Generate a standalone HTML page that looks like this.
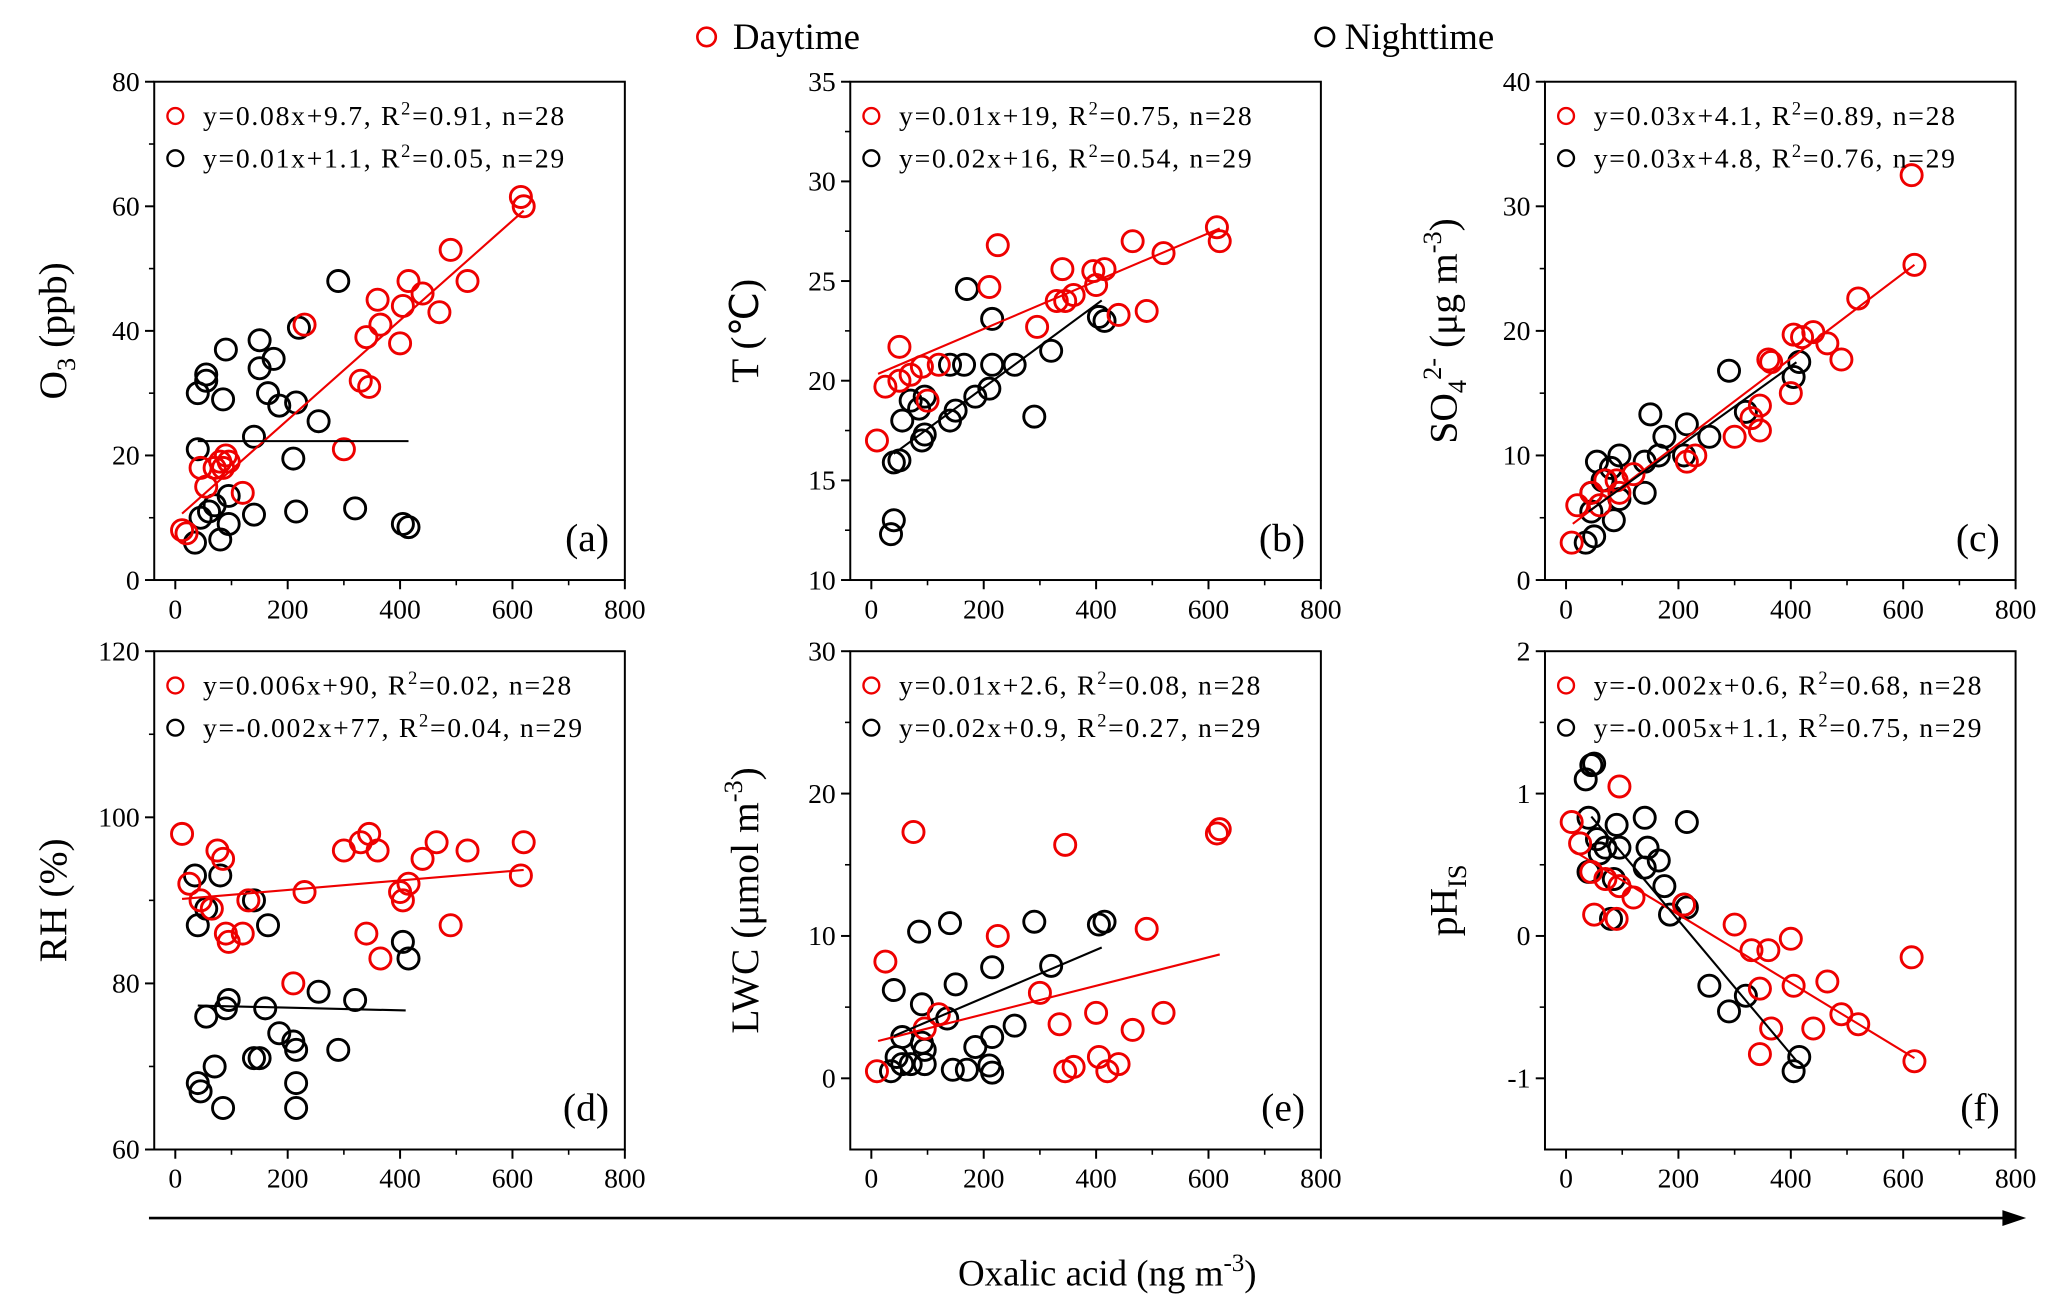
<!DOCTYPE html>
<html><head><meta charset="utf-8">
<style>
html,body{margin:0;padding:0;background:#fff;}
svg{display:block;font-family:"Liberation Serif",serif;}
</style></head>
<body>
<svg id="chart" width="2067" height="1316" viewBox="0 0 1568 998.3" preserveAspectRatio="none" xmlns="http://www.w3.org/2000/svg">
<g>
<circle cx="536" cy="28" r="7" fill="none" stroke="#e00" stroke-width="2"/>
<text x="556" y="37" font-size="28">Daytime</text>
<circle cx="1005" cy="28" r="7" fill="none" stroke="#000" stroke-width="2"/>
<text x="1020" y="37" font-size="28">Nighttime</text>
</g>
<g>
<line x1="113" y1="924" x2="1522" y2="924" stroke="#000" stroke-width="2"/>
<polygon points="1537,924 1519,918 1519,930" fill="#000"/>
</g>
<text x="840" y="975" font-size="28" text-anchor="middle">Oxalic acid (ng m<tspan dy="-11" font-size="19">-3</tspan><tspan dy="11">)</tspan></text>
</svg>
<script>
// ---- data ----
const aDayX=[12,20,45,55,70,80,85,90,95,120,230,300,330,340,345,360,365,400,405,415,440,470,490,520,615,620];
const aDayY=[8,7.5,18,15,18,19,18,20,19,14,41,21,32,39,31,45,41,38,44,48,46,43,53,48,61.5,60];
const aNightX=[35,40,40,45,55,55,60,70,80,85,90,95,95,140,140,150,150,165,175,185,210,215,215,220,255,290,320,405,415];
const aNightY=[6,30,21,10,33,32,11,12,6.5,29,37,9,13.5,23,10.5,34,38.5,30,35.5,28,19.5,11,28.5,40.5,25.5,48,11.5,9,8.5];
const bDayX=[10,25,50,50,70,90,100,120,210,225,295,330,340,345,360,395,400,415,440,465,490,520,615,620];
const bDayY=[17,19.7,21.7,20,20.3,20.7,19,20.8,24.7,26.8,22.7,24,25.6,24,24.3,25.5,24.8,25.6,23.3,27,23.5,26.4,27.7,27];
const bNightX=[35,40,40,50,55,70,85,90,95,95,140,140,150,165,170,185,210,215,215,255,290,320,405,415];
const bNightY=[12.3,13,15.9,16,18,19,18.6,17,17.3,19.2,18,20.8,18.5,20.8,24.6,19.2,19.6,20.8,23.1,20.8,18.2,21.5,23.2,23];
const cDayX=[10,20,45,60,70,90,95,120,215,230,300,330,345,345,360,365,400,405,420,440,465,490,520,615,620];
const cDayY=[3,6,7,6,8,8,7,8.5,9.5,10,11.5,13,12,14,17.7,17.5,15,19.7,19.5,19.9,19,17.7,22.6,32.5,25.3];
const cNightX=[35,45,45,50,55,65,80,85,95,95,140,140,150,165,175,210,215,255,290,320,405,415];
const cNightY=[3,5.5,7,3.5,9.5,8,9,4.8,10,6.5,9.5,7,13.3,10,11.5,10,12.5,11.5,16.8,13.5,16.3,17.5];
const dDayX=[12,25,45,65,75,85,90,95,120,130,210,230,300,330,340,345,360,365,400,405,415,440,465,490,520,615,620];
const dDayY=[98,92,90,89,96,95,86,85,86,90,80,91,96,97,86,98,96,83,91,90,92,95,97,87,96,93,97];
const dNightX=[35,40,40,45,55,55,70,80,85,90,95,140,140,150,160,165,185,210,215,215,215,255,290,320,405,415];
const dNightY=[93,68,87,67,89,76,70,93,65,77,78,90,71,71,77,87,74,73,72,68,65,79,72,78,85,83];
const eDayX=[10,25,75,95,120,225,300,335,345,360,345,400,405,420,440,465,490,520,615,620];
const eDayY=[0.5,8.2,17.3,3.5,4.5,10,6,3.8,16.4,0.8,0.5,4.6,1.5,0.5,1,3.4,10.5,4.6,17.2,17.5];
const eNightX=[35,40,45,55,55,70,85,90,90,95,95,135,140,145,150,170,185,210,215,215,215,255,290,320,405,415];
const eNightY=[0.5,6.2,1.5,2.9,1,1,10.3,5.2,2.5,1,2,4.2,10.9,0.6,6.6,0.6,2.2,0.9,7.8,0.4,2.9,3.7,11,7.9,10.8,11];
const fDayX=[10,25,45,50,70,90,95,95,120,210,300,330,345,345,360,365,400,405,440,465,490,520,615,620];
const fDayY=[0.8,0.65,0.45,0.15,0.4,0.12,1.05,0.35,0.27,0.22,0.08,-0.1,-0.37,-0.83,-0.1,-0.65,-0.02,-0.35,-0.65,-0.32,-0.55,-0.62,-0.15,-0.88];
const fNightX=[35,40,40,45,50,55,60,70,80,85,90,95,140,140,145,165,175,185,210,215,215,255,290,320,405,415];
const fNightY=[1.1,0.83,0.45,1.2,1.21,0.68,0.58,0.62,0.12,0.4,0.78,0.62,0.83,0.48,0.62,0.53,0.35,0.15,0.22,0.2,0.8,-0.35,-0.53,-0.42,-0.95,-0.85];
// fit lines: [slope, intercept, xStart, xEnd]
const aFitDay=[0.08,9.7,12,620], aFitNight=[0,22.3,40,415];
const bFitDay=[0.012,20.2,12,620], bFitNight=[0.0208,15.5,40,410];
const cFitDay=[0.0342,4.1,12,620], cFitNight=[0.0324,4.2,40,410];
const dFitDay=[0.00575,90.1,12,620], dFitNight=[-0.0016,77.4,40,410];
const eFitDay=[0.01,2.5,12,620], eFitNight=[0.0168,2.3,40,410];
const fFitDay=[-0.0024,0.63,12,620], fFitNight=[-0.0047,1.05,45,410];
const xTicks=[0,200,400,600,800];

const NS="http://www.w3.org/2000/svg";
const svg=document.getElementById('chart');
function mk(tag,attrs,parent){const e=document.createElementNS(NS,tag);for(const k in attrs)e.setAttribute(k,attrs[k]);(parent||svg).appendChild(e);return e;}

const panels=[
 {id:'a',x0:117,y0:62,ymin:0,ymax:80,yt:[0,20,40,60,80],dx:aDayX,dy:aDayY,nx:aNightX,ny:aNightY,fd:aFitDay,fn:aFitNight,
  eq1:'y=0.08x+9.7, R|2|=0.91, n=28',eq2:'y=0.01x+1.1, R|2|=0.05, n=29',title:[['O'],['3','sub'],[' (ppb)']],tx:40},
 {id:'b',x0:645,y0:62,ymin:10,ymax:35,yt:[10,15,20,25,30,35],dx:bDayX,dy:bDayY,nx:bNightX,ny:bNightY,fd:bFitDay,fn:bFitNight,
  eq1:'y=0.01x+19, R|2|=0.75, n=28',eq2:'y=0.02x+16, R|2|=0.54, n=29',title:[['T (℃)']],tx:565},
 {id:'c',x0:1172,y0:62,ymin:0,ymax:40,yt:[0,10,20,30,40],dx:cDayX,dy:cDayY,nx:cNightX,ny:cNightY,fd:cFitDay,fn:cFitNight,
  eq1:'y=0.03x+4.1, R|2|=0.89, n=28',eq2:'y=0.03x+4.8, R|2|=0.76, n=29',title:[['SO'],['4','sub'],['2-','sup'],[' (μg m'],['-3','sup'],[')']],tx:1095},
 {id:'d',x0:117,y0:494,ymin:60,ymax:120,yt:[60,80,100,120],dx:dDayX,dy:dDayY,nx:dNightX,ny:dNightY,fd:dFitDay,fn:dFitNight,
  eq1:'y=0.006x+90,  R|2|=0.02, n=28',eq2:'y=-0.002x+77, R|2|=0.04, n=29',title:[['RH (%)']],tx:40},
 {id:'e',x0:645,y0:494,ymin:-5,ymax:30,yt:[0,10,20,30],dx:eDayX,dy:eDayY,nx:eNightX,ny:eNightY,fd:eFitDay,fn:eFitNight,
  eq1:'y=0.01x+2.6, R|2|=0.08, n=28',eq2:'y=0.02x+0.9, R|2|=0.27, n=29',title:[['LWC (μmol m'],['-3','sup'],[')']],tx:565},
 {id:'f',x0:1172,y0:494,ymin:-1.5,ymax:2,yt:[-1,0,1,2],dx:fDayX,dy:fDayY,nx:fNightX,ny:fNightY,fd:fFitDay,fn:fFitNight,
  eq1:'y=-0.002x+0.6,  R|2|=0.68, n=28',eq2:'y=-0.005x+1.1,  R|2|=0.75, n=29',title:[['pH'],['IS','sub']],tx:1095}
];
const W=357,H=378,XMIN=-37.5,XMAX=800;

panels.forEach(p=>{
 const g=mk('g',{});
 
 
 const sx=v=>p.x0+(v-XMIN)/(XMAX-XMIN)*W;
 const sy=v=>p.y0+H-(v-p.ymin)/(p.ymax-p.ymin)*H;
 const box=mk('rect',{x:p.x0,y:p.y0,width:W,height:H,fill:'none',stroke:'#000','stroke-width':1.5},g);
 
 
 xTicks.forEach(t=>{
  const x=sx(t);
  mk('line',{x1:x,y1:p.y0+H,x2:x,y2:p.y0+H+7,stroke:'#000','stroke-width':1.5},g);
  const l=mk('text',{x:x,y:p.y0+H+29,'font-size':21,'text-anchor':'middle'},g);
  l.textContent=t;
  
  
  if(t<800){const xm=sx(t+100);mk('line',{x1:xm,y1:p.y0+H,x2:xm,y2:p.y0+H+4,stroke:'#000','stroke-width':1.2},g);}
 });
 p.yt.forEach((t,i)=>{
  const y=sy(t);
  mk('line',{x1:p.x0-7,y1:y,x2:p.x0,y2:y,stroke:'#000','stroke-width':1.5},g);
  const l=mk('text',{x:p.x0-11,y:y+7,'font-size':21,'text-anchor':'end'},g);
  l.textContent=t;
  
  
  if(i<p.yt.length-1){const ym=sy((t+p.yt[i+1])/2);mk('line',{x1:p.x0-4,y1:ym,x2:p.x0,y2:ym,stroke:'#000','stroke-width':1.2},g);}
 });
 p.nx.forEach((v,i)=>{
  const c=mk('circle',{cx:sx(v),cy:sy(p.ny[i]),r:8,fill:'none',stroke:'#000','stroke-width':2.2},g);
  
  
 });
 p.dx.forEach((v,i)=>{
  const c=mk('circle',{cx:sx(v),cy:sy(p.dy[i]),r:8,fill:'none',stroke:'#e00','stroke-width':2.2},g);
  
  
 });
 [[p.fd,'#e00','daytime-fit-line'],[p.fn,'#000','nighttime-fit-line']].forEach(([f,col,nm])=>{
  const l=mk('line',{x1:sx(f[2]),y1:sy(f[0]*f[2]+f[1]),x2:sx(f[3]),y2:sy(f[0]*f[3]+f[1]),stroke:col,'stroke-width':1.6},g);
  
  
 });
 [[p.eq1,'#e00',26,'daytime-equation'],[p.eq2,'#000',58,'nighttime-equation']].forEach(([s,col,dy,nm])=>{
  const cy=p.y0+dy;
  mk('circle',{cx:p.x0+16,cy:cy,r:6,fill:'none',stroke:col,'stroke-width':1.8},g);
  const t=mk('text',{x:p.x0+37,y:cy+7,'font-size':21,'letter-spacing':1.3},g);
  
  
  const parts=s.split('|');
  parts.forEach((pt,j)=>{const ts=mk('tspan',{},t);ts.textContent=pt;
   if(j===1){ts.setAttribute('dy','-8');ts.setAttribute('font-size','14');}
   if(j===2){ts.setAttribute('dy','8');}});
 });
 const pl=mk('text',{x:p.x0+W-12,y:p.y0+H-22,'font-size':30,'text-anchor':'end'},g);
 pl.textContent='('+p.id+')';
 
 
 const cy=p.y0+H/2;
 const t=mk('text',{x:p.tx,y:cy,'font-size':30,'text-anchor':'middle',transform:`rotate(-90 ${p.tx} ${cy})`,dy:10},g);
 
 
 let cur=0;
 p.title.forEach(([s,k])=>{const ts=mk('tspan',{},t);ts.textContent=s;
  let target=k==='sub'?7:k==='sup'?-12:0;
  if(k){ts.setAttribute('font-size','20');}
  if(target!==cur){ts.setAttribute('dy',target-cur);cur=target;}
 });
});
</script>
</body></html>
